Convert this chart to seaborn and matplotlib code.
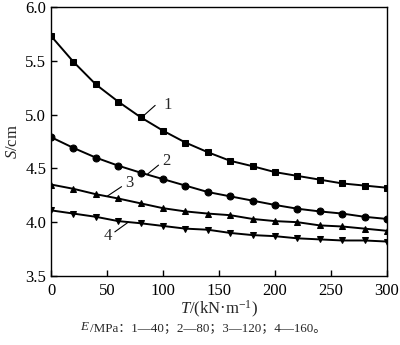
import matplotlib
matplotlib.use("Agg")
import matplotlib.pyplot as plt
import seaborn as sns
import pandas as pd

T = [0, 20, 40, 60, 80, 100, 120, 140, 160, 180, 200, 220, 240, 260, 280, 300]
S1 = [5.73, 5.49, 5.28, 5.12, 4.975, 4.85, 4.74, 4.65, 4.57, 4.52, 4.465, 4.43, 4.395, 4.36, 4.34, 4.32]
S2 = [4.79, 4.69, 4.60, 4.525, 4.46, 4.40, 4.34, 4.28, 4.24, 4.20, 4.16, 4.125, 4.10, 4.08, 4.05, 4.03]
S3 = [4.35, 4.31, 4.26, 4.22, 4.175, 4.13, 4.10, 4.08, 4.065, 4.03, 4.01, 4.00, 3.97, 3.96, 3.94, 3.92]
S4 = [4.11, 4.08, 4.05, 4.01, 3.99, 3.965, 3.94, 3.93, 3.90, 3.88, 3.87, 3.85, 3.84, 3.83, 3.83, 3.82]
labels = ["1", "2", "3", "4"]
markers = ["s", "o", "^", "v"]

sns.set_style("ticks")
plt.rcParams['font.family'] = ['Liberation Serif', 'Noto Sans CJK SC']
plt.rcParams['mathtext.fontset'] = 'custom'
plt.rcParams['mathtext.rm'] = 'Liberation Serif'
plt.rcParams['mathtext.it'] = 'Liberation Serif:italic'

fig = plt.figure(figsize=(4.0, 3.45), dpi=100)
ax = fig.add_axes([0.1275, 0.2, 0.84, 0.78])

for s, m, lab in zip([S1, S2, S3, S4], markers, labels):
    df = pd.DataFrame({"T": T, "S": s})
    sns.lineplot(data=df, x="T", y="S", ax=ax, color="black", lw=1.4,
                 marker=m, markersize=5, markeredgecolor="black",
                 markerfacecolor="black")

ax.set_xlim(0, 300)
ax.set_ylim(3.5, 6.0)
ax.set_xticks([0, 50, 100, 150, 200, 250, 300])
ax.set_yticks([3.5, 4.0, 4.5, 5.0, 5.5, 6.0])
ax.yaxis.set_major_formatter(matplotlib.ticker.FormatStrFormatter('%.1f'))
ax.tick_params(direction='in', length=4, width=1, labelsize=12, colors='black')
ax.tick_params(axis='x', pad=5)
for sp in ax.spines.values():
    sp.set_color('black')
    sp.set_linewidth(1)

ax.set_xlabel(r"$T$/(kN·m$^{-1}$)", fontsize=12, labelpad=0)
ax.set_ylabel(r"$S$/cm", fontsize=12, labelpad=3)

# curve annotations
ax.plot([79, 93], [4.955, 5.085], color='black', lw=0.8)
ax.text(100, 5.09, labels[0], fontsize=12, ha='left', va='center')
ax.plot([86, 96], [4.445, 4.53], color='black', lw=0.8)
ax.text(99, 4.57, labels[1], fontsize=12, ha='left', va='center')
ax.plot([50, 63], [4.24, 4.33], color='black', lw=0.8)
ax.text(66, 4.36, labels[2], fontsize=12, ha='left', va='center')
ax.plot([57, 69], [3.91, 4.00], color='black', lw=0.8)
ax.text(51, 3.87, labels[3], fontsize=12, ha='center', va='center')

t1 = fig.text(0.2, 0.043, r"$E$", fontsize=9.4, ha='left', va='baseline')
ax.annotate("/MPa：1—40；2—80；3—120；4—160。", xy=(1, 0), xycoords=t1,
            xytext=(0, -0.5), textcoords='offset points',
            fontsize=9.4, ha='left', va='bottom', annotation_clip=False)

fig.savefig("out.png", dpi=100)
